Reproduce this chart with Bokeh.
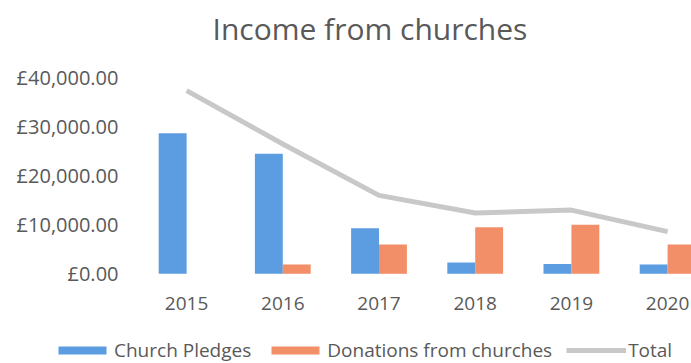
from bokeh.plotting import figure
from bokeh.models import (Range1d, FixedTicker, Legend, LegendItem, ColumnDataSource,
                          LinearAxis)
from bokeh.embed import file_html
from bokeh.resources import INLINE

# ---- data ----
years = [2015, 2016, 2017, 2018, 2019, 2020]
church_pledges = [28700, 24500, 9300, 2300, 2000, 1900]
donations_from_churches = [0, 1900, 6000, 9500, 10000, 6000]
total = [37400, 26500, 16000, 12400, 13000, 8600]
y_ticks = [0, 10000, 20000, 30000, 40000]
y_tick_labels = ["£0.00", "£10,000.00", "£20,000.00", "£30,000.00", "£40,000.00"]
year_labels = ["2015", "2016", "2017", "2018", "2019", "2020"]

FONT = "Open Sans"
TXT = "#595959"
BLUE = "#5b9de0"
ORANGE = "#f28f68"
GREY = "#c8c8c8"

W, H = 691, 363
TITLE_H = 51                 # height of the title band
PLOT_LEFT_PX = 138           # where the category axis starts
PX_PER_YEAR = 96.2
ZERO_Y, TOP_TICK_Y = 272.7, 75.5   # canvas px of 0 and 40,000
px_per_val = (ZERO_Y - TOP_TICK_Y) / 40000

x_start = (years[0] - 0.5) - PLOT_LEFT_PX / PX_PER_YEAR
x_end = (years[0] - 0.5) + (W - PLOT_LEFT_PX) / PX_PER_YEAR
y_end = (ZERO_Y - TITLE_H) / px_per_val
y_start = -(H - ZERO_Y) / px_per_val

bar_w = 0.29
src = ColumnDataSource(dict(
    x_p=[y - bar_w / 2 for y in years],
    x_d=[y + bar_w / 2 for y in years],
    x=years,
    p=church_pledges,
    d=donations_from_churches,
    t=total,
))

p = figure(width=W, height=H, output_backend="svg", toolbar_location=None,
           x_range=Range1d(x_start, x_end), y_range=Range1d(y_start, y_end),
           x_axis_location=None, y_axis_location=None,
           min_border_left=0, min_border_right=0, min_border_top=TITLE_H,
           min_border_bottom=0, title="Income from churches")

p.title.text_font = FONT
p.title.text_font_size = "30px"
p.title.text_font_style = "normal"
p.title.text_color = TXT
p.title.align = "left"
p.title.offset = 212
p.title.standoff = 10

r1 = p.vbar(x="x_p", top="p", width=bar_w, source=src, color=BLUE, line_color=None)
r2 = p.vbar(x="x_d", top="d", width=bar_w, source=src, color=ORANGE, line_color=None)
r3 = p.line(x="x", y="t", source=src, line_color=GREY, line_width=5)

p.xgrid.visible = False
p.ygrid.visible = False
p.outline_line_color = None

xaxis = LinearAxis(fixed_location=0, ticker=FixedTicker(ticks=years),
                   major_label_overrides={y: s for y, s in zip(years, year_labels)})
yaxis = LinearAxis(fixed_location=years[0] - 0.5, ticker=FixedTicker(ticks=y_ticks),
                   major_label_overrides={v: s for v, s in zip(y_ticks, y_tick_labels)})
for ax in (xaxis, yaxis):
    ax.axis_line_color = None
    ax.major_tick_line_color = None
    ax.minor_tick_line_color = None
    ax.major_tick_out = 0
    ax.major_tick_in = 0
    ax.minor_tick_out = 0
    ax.minor_tick_in = 0
    ax.major_label_text_font = FONT
    ax.major_label_text_font_size = "19px"
    ax.major_label_text_color = TXT
xaxis.major_label_standoff = 23
yaxis.major_label_standoff = 20
yaxis.major_label_text_font_size = "20px"
p.add_layout(xaxis, "below")
p.add_layout(yaxis, "left")

legend = Legend(items=[
    LegendItem(label="Church Pledges", renderers=[r1]),
    LegendItem(label="Donations from churches", renderers=[r2]),
    LegendItem(label="Total", renderers=[r3]),
], orientation="horizontal", location=(52, 0), padding=0, margin=0,
    spacing=14, label_standoff=2, glyph_width=60, glyph_height=10,
    border_line_color=None, background_fill_alpha=0,
    label_text_font=FONT, label_text_font_size="19px", label_text_color=TXT)
p.add_layout(legend, "center")

open("out.html", "w").write(file_html(p, INLINE))
